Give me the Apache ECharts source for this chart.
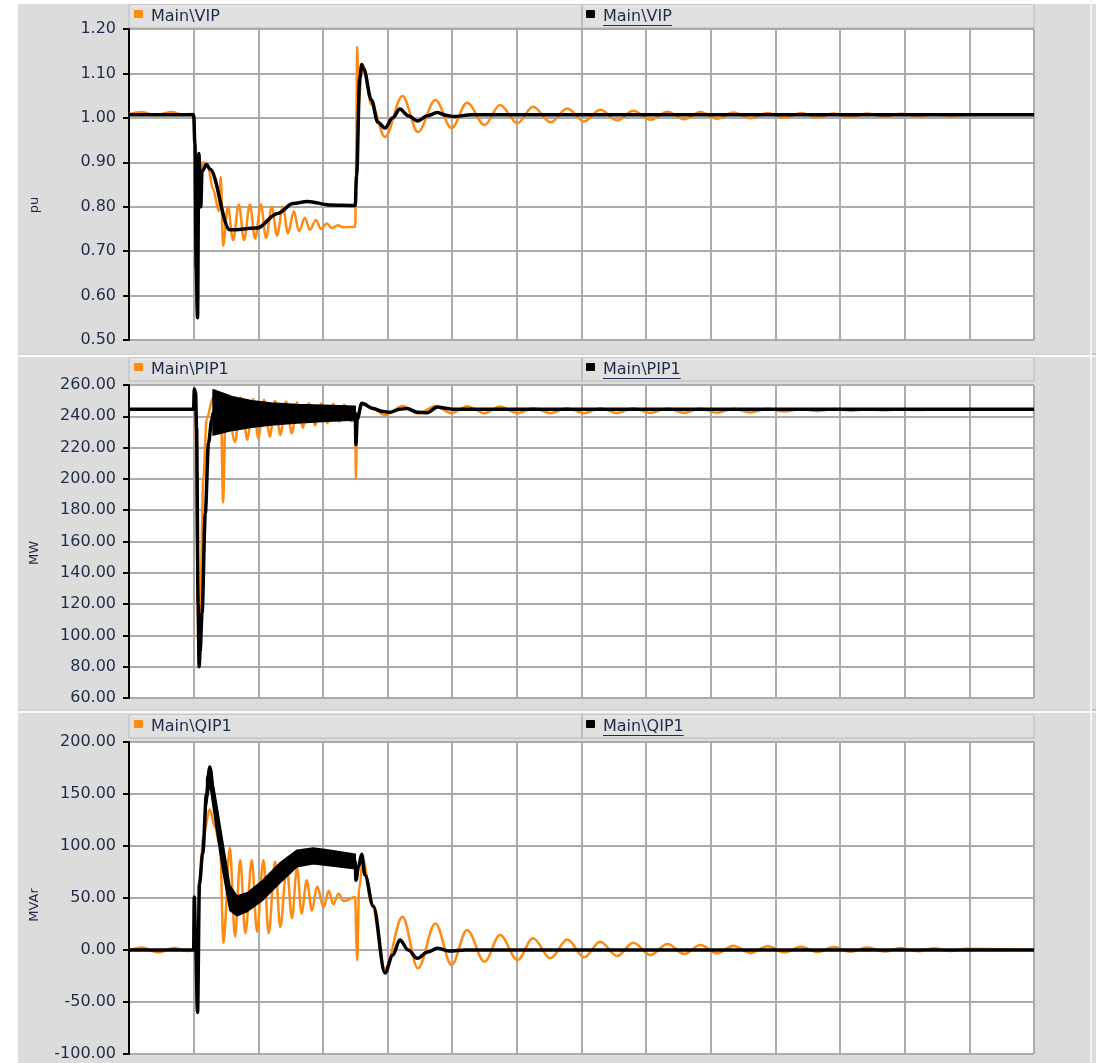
<!DOCTYPE html>
<html>
<head>
<meta charset="utf-8">
<script src="https://cdn.jsdelivr.net/npm/echarts@6/dist/echarts.min.js"></script>
<style>
  html, body { margin: 0; padding: 0; background: #fff; }
  #chart { width: 1096px; height: 1063px; }
</style>
</head>
<body>
<div id="chart"></div>
<script>
// time axis is in grid divisions (14 divisions, no labels in the original)
// times of the troughs / peaks of the ringing after the fault is cleared
const tailT = [3.96, 4.23, 4.47, 4.74, 4.99, 5.23, 5.5, 5.74, 6.01, 6.25, 6.52, 6.78, 7.04, 7.29, 7.55, 7.8, 8.07, 8.33,
  8.59, 8.84, 9.1, 9.35, 9.61, 9.88, 10.14, 10.39, 10.65, 10.9, 11.16, 11.42, 11.69, 11.94, 12.2, 12.45, 12.71, 12.96];

// ---- Main\VIP (pu)
const vipBlack = [[0, 1.007], [1.0, 1.007], [1.02, 0.94], [1.04, 0.66], [1.06, 0.55], [1.08, 0.92], [1.11, 0.8],
  [1.13, 0.88], [1.2, 0.895], [1.25, 0.885], [1.56, 0.748], [1.98, 0.752], [2.3, 0.785], [2.54, 0.807], [2.76, 0.812],
  [3.1, 0.804], [3.5, 0.803], [3.52, 0.87], [3.57, 1.09], [3.6, 1.12], [3.63, 1.11], [3.75, 1.04], [3.85, 0.99],
  [3.96, 0.977], [4.08, 1.0], [4.19, 1.02], [4.32, 1.005], [4.46, 0.993], [4.62, 1.005], [4.77, 1.012], [4.9, 1.006],
  [5.02, 1.003], [5.3, 1.007], [14, 1.007]];
const vipOrangeHead = [[0, 1.008], [0.2, 1.013], [0.4, 1.006], [0.65, 1.013], [0.85, 1.007], [1.0, 1.009], [1.02, 0.95],
  [1.035, 0.68], [1.05, 0.57], [1.075, 0.84], [1.1, 0.88], [1.15, 0.9], [1.22, 0.89], [1.3, 0.84], [1.39, 0.79],
  [1.42, 0.867], [1.455, 0.712], [1.53, 0.8], [1.61, 0.725], [1.7, 0.805], [1.78, 0.725], [1.87, 0.805], [1.95, 0.728],
  [2.04, 0.805], [2.12, 0.73], [2.21, 0.8], [2.29, 0.735], [2.38, 0.8], [2.46, 0.74], [2.55, 0.79], [2.63, 0.745],
  [2.72, 0.775], [2.8, 0.748], [2.89, 0.77], [2.97, 0.75], [3.06, 0.762], [3.14, 0.752], [3.23, 0.758], [3.31, 0.754],
  [3.5, 0.755], [3.51, 0.86], [3.53, 1.16], [3.55, 1.03], [3.6, 1.1], [3.63, 1.115], [3.75, 1.03]];
const vipOrangeTail = [0.957, 1.049, 0.968, 1.04, 0.977, 1.034, 0.984, 1.029, 0.988, 1.025, 0.99, 1.021, 0.992, 1.018,
  0.994, 1.016, 0.996, 1.014, 0.997, 1.013, 0.998, 1.012, 0.999, 1.011, 1.0, 1.011, 1.001, 1.01, 1.002, 1.01, 1.003,
  1.009, 1.004, 1.008, 1.005, 1.007];
const vipOrangeEnd = [[14, 1.007]];

// ---- Main\PIP1 (MW)
const pipBlack = [[0, 244.5], [1.0, 244.5], [1.01, 257.5], [1.03, 255], [1.045, 233], [1.07, 120], [1.085, 80],
  [1.1, 90], [1.13, 114], [1.18, 178], [1.23, 223], [1.28, 237.6], [1.3, 242], [3.5, 242], [3.51, 222], [3.53, 238],
  [3.6, 248.3], [3.78, 245], [3.93, 243], [4.04, 242.6], [4.19, 244.5], [4.3, 245], [4.46, 242.6], [4.61, 242.3],
  [4.77, 246], [4.93, 245], [5.0, 244.5], [14, 244.5]];
const pipBandT = [1.3, 1.4, 1.6, 1.9, 2.2, 2.6, 3.0, 3.5];
const pipBandLow = [228, 229, 231, 233, 234.5, 235.7, 236.7, 237.6];
const pipBandHigh = [257, 255.5, 252.5, 250, 248.5, 247.5, 247, 246.5];
const pipOrangeHead = [[0, 244.5], [1.0, 244.5], [1.01, 257], [1.03, 250], [1.05, 160], [1.075, 84], [1.1, 115],
  [1.15, 200], [1.2, 238], [1.3, 252], [1.42, 251], [1.455, 185], [1.5, 253], [1.64, 223.6], [1.73, 252], [1.83, 225],
  [1.92, 251], [2.0, 226], [2.09, 250.5], [2.18, 227], [2.26, 250], [2.34, 228], [2.43, 249.5], [2.52, 229],
  [2.6, 249], [2.69, 232.5], [2.78, 248.5], [2.88, 234], [2.97, 248.2], [3.07, 235.5], [3.16, 248], [3.25, 236.5],
  [3.33, 247.5], [3.42, 237], [3.5, 237], [3.51, 200], [3.53, 240], [3.6, 248], [3.78, 244.5]];
const pipOrangeTail = [240.8, 246.6, 241.8, 246.6, 242, 246.4, 242, 246.2, 242, 245.3, 242, 245.2, 242, 245.2, 242.1,
  245.1, 242.2, 245, 242.2, 245, 242.3, 244.9, 242.5, 244.8, 243, 244.7, 243.3, 244.6, 243.6, 244.5, 243.8, 244.5, 244,
  244.5, 244.2, 244.5];
const pipOrangeEnd = [[14, 244.5]];

// ---- Main\QIP1 (MVAr)
const qipBlack = [[0, 0], [1.0, 0], [1.01, 51], [1.03, 10], [1.06, -60], [1.09, 64], [1.14, 93], [1.2, 150],
  [1.25, 176], [1.33, 138], [1.45, 92], [1.57, 50], [1.67, 42], [1.83, 46], [2.07, 58], [2.34, 75], [2.6, 88],
  [2.85, 91], [3.11, 89], [3.5, 85], [3.51, 67], [3.55, 80], [3.6, 92], [3.65, 72], [3.78, 42], [3.96, -22],
  [4.08, -5], [4.19, 9.6], [4.32, 0], [4.46, -8], [4.62, -2], [4.77, 1.6], [4.95, -1], [5.2, 0], [14, 0]];
const qipBandT = [1.2, 1.25, 1.33, 1.44, 1.56, 1.67, 1.83, 2.07, 2.34, 2.6, 2.85, 3.11, 3.5];
const qipBandLow = [140, 160, 125, 80, 38, 33, 37, 48, 65, 80, 83, 81, 78];
const qipBandHigh = [165, 176, 150, 108, 62, 52, 55, 67, 84, 96, 98, 96, 92];
const qipOrangeHead = [[0, 0], [0.2, 2.5], [0.45, -2.5], [0.7, 2], [0.9, -1], [1.0, 0], [1.01, 45], [1.03, 5],
  [1.055, -55], [1.09, 60], [1.15, 110], [1.25, 135], [1.33, 118], [1.41, 99], [1.46, 7], [1.56, 98], [1.64, 12.8],
  [1.72, 86.5], [1.8, 16], [1.9, 86.5], [1.98, 17.6], [2.08, 86.5], [2.16, 16], [2.26, 85], [2.34, 22], [2.44, 80],
  [2.52, 30.6], [2.6, 79], [2.67, 35], [2.75, 67], [2.83, 38], [2.91, 61], [3.01, 41], [3.09, 57], [3.16, 44],
  [3.24, 54], [3.32, 47], [3.5, 51], [3.51, 51], [3.53, -10], [3.56, 60], [3.62, 87], [3.75, 45]];
const qipOrangeTail = [-18, 32, -17.6, 25.6, -14.4, 19.2, -11.2, 14.4, -9.6, 11.2, -8, 10, -7, 8, -5.8, 7, -4.8, 5.8,
  -3.8, 4.8, -3.2, 4.2, -2.8, 3.6, -2.4, 3.2, -2, 2.8, -1.8, 2.4, -1.5, 2, -1.2, 1.6, -1, 1.2];
const qipOrangeEnd = [[14, 0]];

const legendNames = ["Main\\VIP", "Main\\PIP1", "Main\\QIP1"];
const axisNames = ["pu", "MW", "MVAr"];
const yMin = [0.5, 60, -100];
const yMax = [1.2, 260, 200];
const yStep = [0.1, 20, 50];

// layout
const orange = "#ff8a12";
const labelColor = "#1f2b4a";
const gridColor = "#ababab";
const plots = [
  { top: 29, height: 311 },
  { top: 385, height: 313 },
  { top: 742, height: 312 }
];
const panelBox = [[4, 353], [357, 709], [713, 1063]];
const legendTop = [5, 358, 715];
const nameY = [205, 553, 905];
const plotLeft = 129, plotWidth = 905;

function zip(t, v) {
  return t.map((x, i) => [x, v[i]]);
}

const measure = document.createElement("canvas").getContext("2d");
measure.font = '16px "DejaVu Sans"';

let chart = echarts.init(document.getElementById("chart"));

var grid = [], xAxis = [], yAxis = [], series = [], elements = [];

for (let i = 0; i < 3; i++) {
  grid.push({ left: plotLeft, top: plots[i].top, width: plotWidth, height: plots[i].height });
  xAxis.push({
    type: "value", gridIndex: i, min: 0, max: 14, interval: 1,
    axisLine: { show: false }, axisTick: { show: false }, axisLabel: { show: false },
    splitLine: { lineStyle: { color: gridColor, width: 2 } }
  });
  yAxis.push({
    type: "value", gridIndex: i, min: yMin[i], max: yMax[i], interval: yStep[i],
    axisLine: { show: true, lineStyle: { color: "#000", width: 2 } },
    axisTick: { show: true, length: 6, lineStyle: { color: "#000", width: 2 } },
    axisLabel: {
      margin: 13, fontSize: 16, color: labelColor, fontFamily: "DejaVu Sans",
      formatter: (v) => v.toFixed(2)
    },
    splitLine: { lineStyle: { color: gridColor, width: 2 } }
  });
}

function line(idx, data, color, width, smooth) {
  return {
    type: "line", xAxisIndex: idx, yAxisIndex: idx, data: data, symbol: "none",
    smooth: smooth, smoothMonotone: "x", silent: true, animation: false,
    lineStyle: { color: color, width: width }
  };
}
// thick oscillation band: polygon between low and high envelope, placed with the axes' scales
function band(idx, t, low, high) {
  return {
    type: "custom", xAxisIndex: idx, yAxisIndex: idx, silent: true, animation: false, z: 5,
    data: t.map((x, k) => [x, low[k], high[k]]),
    encode: { x: 0, y: [1, 2] },
    renderItem: function (params, api) {
      if (params.dataIndex !== 0) return null;
      const top = t.map((x, k) => api.coord([x, high[k]]));
      const bottom = t.map((x, k) => api.coord([x, low[k]])).reverse();
      return {
        type: "polygon",
        shape: { points: top.concat(bottom) },
        style: { fill: "#000", stroke: "#000", lineWidth: 1.5, lineJoin: "round" }
      };
    }
  };
}

series.push(line(0, vipOrangeHead.concat(zip(tailT, vipOrangeTail), vipOrangeEnd), orange, 2.5, 0.35));
series.push(line(0, vipBlack, "#000", 3.5, 0.35));
series.push(line(1, pipOrangeHead.concat(zip(tailT, pipOrangeTail), pipOrangeEnd), orange, 2.5, 0.3));
series.push(line(1, pipBlack, "#000", 3.5, 0.3));
series.push(band(1, pipBandT, pipBandLow, pipBandHigh));
series.push(line(2, qipOrangeHead.concat(zip(tailT, qipOrangeTail), qipOrangeEnd), orange, 2.5, 0.35));
series.push(line(2, qipBlack, "#000", 3.5, 0.35));
series.push(band(2, qipBandT, qipBandLow, qipBandHigh));

// panel frames, legend bars
for (let i = 0; i < 3; i++) {
  let y0 = panelBox[i][0], y1 = panelBox[i][1];
  elements.push({ type: "rect", z: -10, shape: { x: 18, y: y0, width: 1072, height: y1 - y0 },
    style: { fill: "#dcdcdc" } });
  elements.push({ type: "rect", z: -9, shape: { x: plotLeft, y: plots[i].top, width: plotWidth, height: plots[i].height },
    style: { fill: "#fff" } });
  let ly = legendTop[i];
  elements.push({ type: "rect", z: -9, shape: { x: plotLeft, y: ly, width: plotWidth, height: 23 },
    style: { fill: "#e0e0e0", stroke: "#b9b9b9", lineWidth: 1 } });
  elements.push({ type: "line", z: -8, shape: { x1: plotLeft + 1, y1: ly + 1, x2: plotLeft + plotWidth - 1, y2: ly + 1 },
    style: { stroke: "#f2f2f2", lineWidth: 1 } });
  elements.push({ type: "line", z: -8, shape: { x1: 582, y1: ly, x2: 582, y2: ly + 23 },
    style: { stroke: "#b0b0b0", lineWidth: 1.5 } });
  elements.push({ type: "rect", z: 10, shape: { x: 134, y: ly + 5, width: 9, height: 8, r: 1 },
    style: { fill: orange } });
  elements.push({ type: "text", z: 10, x: 151, y: ly + 12,
    style: { text: legendNames[i], fill: labelColor, font: '16px "DejaVu Sans"', verticalAlign: "middle" } });
  elements.push({ type: "rect", z: 10, shape: { x: 586, y: ly + 5, width: 9, height: 8, r: 1 },
    style: { fill: "#000" } });
  elements.push({ type: "text", z: 10, x: 603, y: ly + 12,
    style: { text: legendNames[i], fill: labelColor, font: '16px "DejaVu Sans"', verticalAlign: "middle" } });
  let w = measure.measureText(legendNames[i]).width;
  elements.push({ type: "line", z: 10, shape: { x1: 603, y1: ly + 20.5, x2: 603 + w, y2: ly + 20.5 },
    style: { stroke: labelColor, lineWidth: 1 } });
  // unit name, written bottom-to-top left of the axis
  elements.push({ type: "text", z: 10, x: 35, y: nameY[i], rotation: Math.PI / 2,
    style: { text: axisNames[i], fill: labelColor, font: '13px "DejaVu Sans"', align: "center", verticalAlign: "middle" } });
}
// separators between the panels
[355, 711].forEach((y) => {
  elements.push({ type: "line", z: -8, shape: { x1: 18, y1: y - 1, x2: 1096, y2: y - 1 },
    style: { stroke: "#a9a9a9", lineWidth: 1 } });
  elements.push({ type: "line", z: -8, shape: { x1: 18, y1: y + 1, x2: 1096, y2: y + 1 },
    style: { stroke: "#f7f7f7", lineWidth: 1.5 } });
});
elements.push({ type: "line", z: -8, shape: { x1: 1091, y1: 0, x2: 1091, y2: 1063 },
  style: { stroke: "#f5f5f5", lineWidth: 2 } });
elements.push({ type: "rect", z: -10, shape: { x: 1092, y: 4, width: 4, height: 1059 },
  style: { fill: "#dcdcdc" } });

const options = {
  backgroundColor: "#fff",
  animation: false,
  grid: grid,
  xAxis: xAxis,
  yAxis: yAxis,
  graphic: { elements: elements },
  series: series
};
if (options && typeof options === "object") chart.setOption(options);
</script>
</body>
</html>
